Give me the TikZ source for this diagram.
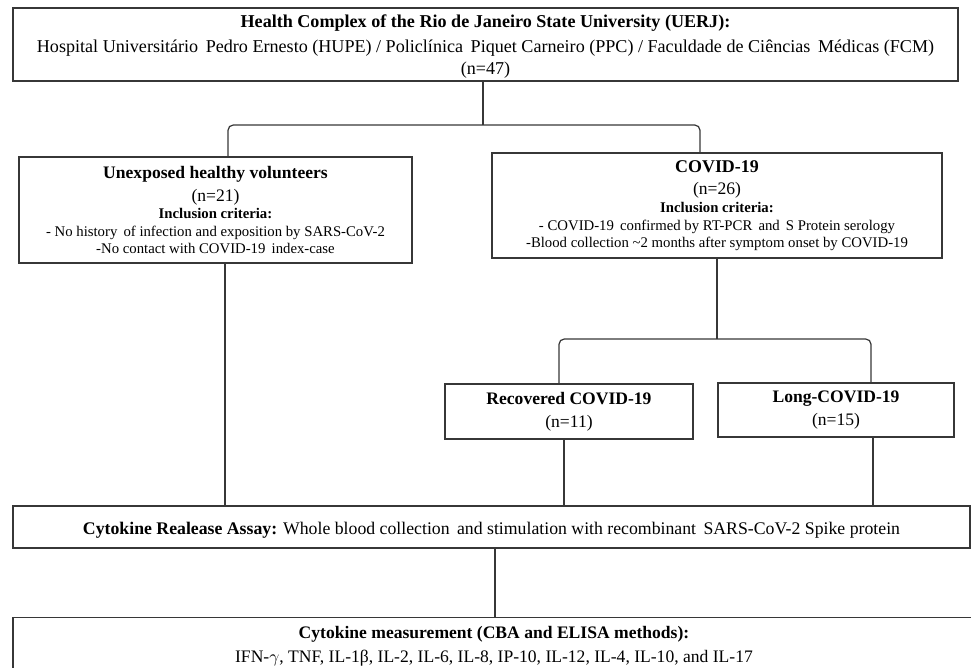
\documentclass[tikz,border=0pt]{standalone}
\usepackage{fontspec}
\setmainfont{Liberation Serif}
\usepackage{tikz}
\usetikzlibrary{positioning, calc}
\definecolor{lineGray}{RGB}{55, 55, 55}

\begin{document}
\begin{tikzpicture}[
    x=0.02cm, y=-0.02cm,
    every node/.style={font=\fontsize{8.4}{9.8}\selectfont},
    fbox/.style={rectangle, draw=lineGray, line width=0.7pt, inner sep=0pt, text centered, align=center, fill=white},
    link/.style={draw=lineGray, line width=0.7pt, rounded corners=3pt}
]
\clip (0,0) rectangle (971,668);

% Row 1: Source
\node[fbox, minimum width=18.9cm, minimum height=1.46cm, text height=37.7pt, text depth=3.6pt, font=\fontsize{10.3}{12.5}\selectfont] (uerj) at (485.5,44.5)
  {\textbf{Health Complex of the Rio de Janeiro State University (UERJ):}\\[1.7pt]
   Hospital Universitário\, Pedro Ernesto (HUPE) / Policlínica\, Piquet Carneiro (PPC) / Faculdade de Ciências\, Médicas (FCM)\\
   (n=47)};

% Row 2: Groups
\node[fbox, minimum width=7.86cm, minimum height=2.12cm] (unexp) at (215.5,210)
  {{\bfseries\fontsize{10}{12}\selectfont Unexposed healthy volunteers}\\[3.2pt]
   {\fontsize{10}{11}\selectfont (n=21)}\\
   \textbf{Inclusion criteria:}\\[0.6pt]
   - No history\, of infection and exposition by SARS-CoV-2\\
   -No contact with COVID-19\, index-case};
\node[fbox, minimum width=9.0cm, minimum height=2.1cm] (covid) at (717,205.5)
  {{\bfseries\fontsize{10.2}{12}\selectfont COVID-19}\\[3.2pt]
   {\fontsize{10}{11}\selectfont (n=26)}\\
   \textbf{Inclusion criteria:}\\[0.6pt]
   - COVID-19\, confirmed by RT-PCR\, and\, S Protein serology\\
   -Blood collection \textasciitilde 2 months after symptom onset by COVID-19};

% Row 3: COVID-19 subgroups
\node[fbox, minimum width=4.96cm, minimum height=1.1cm] (recov) at (569,411.5)
  {{\bfseries\fontsize{10}{12}\selectfont Recovered COVID-19}\\[3.2pt]
   {\fontsize{10}{11}\selectfont (n=11)}};
\node[fbox, minimum width=4.72cm, minimum height=1.08cm] (long) at (836,410)
  {{\bfseries\fontsize{10}{12}\selectfont Long-COVID-19}\\[3.2pt]
   {\fontsize{10}{11}\selectfont (n=15)}};

% Row 4: Assay and measurement
\node[fbox, minimum width=19.14cm, minimum height=0.84cm, text height=16.4pt, text depth=7.4pt, font=\fontsize{10.1}{12}\selectfont] (assay) at (491.5,527)
  {\textbf{Cytokine Realease Assay:} Whole blood collection\, and stimulation with recombinant\, SARS-CoV-2 Spike protein};
\node[fbox, anchor=north, minimum width=19.24cm, minimum height=1.2cm, text height=25.5pt, text depth=8.5pt, font=\fontsize{10}{13.6}\selectfont] (cyto) at (494,617)
  {\textbf{Cytokine measurement (CBA and ELISA methods):}\\
   IFN-$\gamma$, TNF, IL-1β, IL-2, IL-6, IL-8, IP-10, IL-12, IL-4, IL-10, and IL-17};

% Junctions
\coordinate (s1) at (483,125);
\coordinate (l1) at (228,125);
\coordinate (r1) at (700,125);
\coordinate (s2) at (717,339);
\coordinate (l2) at (559,339);
\coordinate (r2) at (871,339);

% Connectors
\draw[link] (uerj.south -| s1) -- (s1);
\draw[link] (l1 |- unexp.north) -- (l1) -- (r1) -- (r1 |- covid.north);
\draw[link] (covid.south -| s2) -- (s2);
\draw[link] (l2 |- recov.north) -- (l2) -- (r2) -- (r2 |- long.north);
\draw[link] ([xshift=0.19cm]unexp.south) -- ([xshift=0.19cm]unexp.south |- assay.north);
\draw[link] ([xshift=-0.1cm]recov.south) -- ([xshift=-0.1cm]recov.south |- assay.north);
\draw[link] ([xshift=0.74cm]long.south) -- ([xshift=0.74cm]long.south |- assay.north);
\draw[link] ([xshift=0.07cm]assay.south) -- ([xshift=0.07cm]assay.south |- cyto.north);

\end{tikzpicture}
\end{document}
